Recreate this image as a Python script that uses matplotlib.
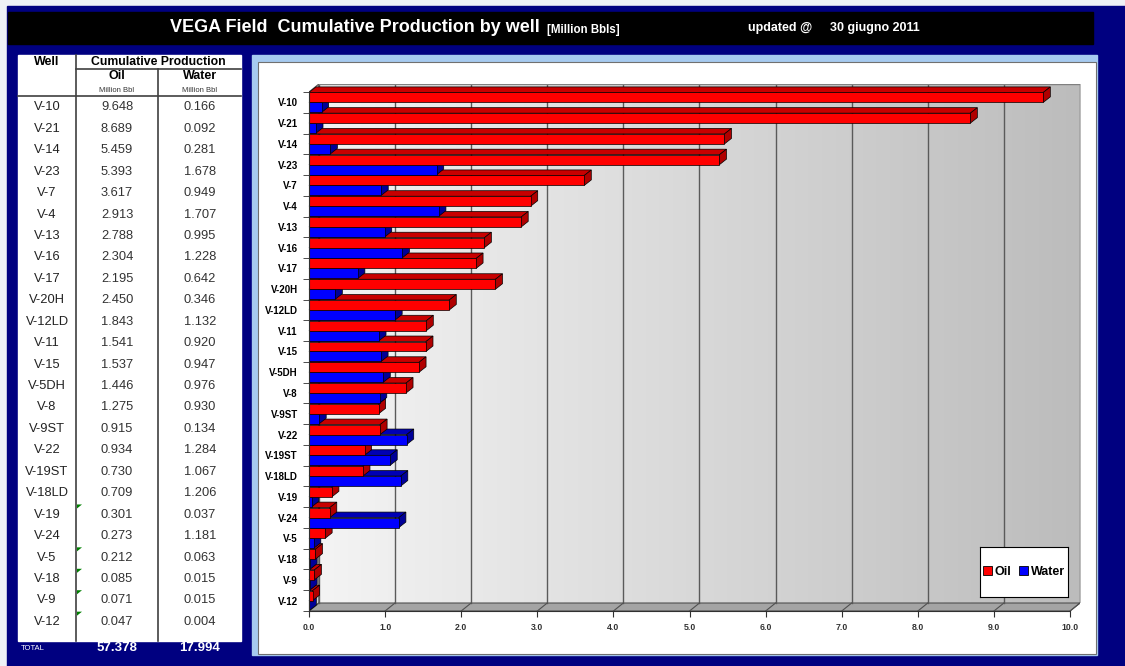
import numpy as np
import matplotlib.pyplot as plt
from matplotlib.patches import Rectangle, Polygon, Patch
from matplotlib.colors import LinearSegmentedColormap

plt.rcParams['font.family'] = ['Liberation Sans', 'DejaVu Sans']

# well data, Million Bbl
wells = ['V-10', 'V-21', 'V-14', 'V-23', 'V-7', 'V-4', 'V-13', 'V-16', 'V-17',
         'V-20H', 'V-12LD', 'V-11', 'V-15', 'V-5DH', 'V-8', 'V-9ST', 'V-22',
         'V-19ST', 'V-18LD', 'V-19', 'V-24', 'V-5', 'V-18', 'V-9', 'V-12']
oil = [9.648, 8.689, 5.459, 5.393, 3.617, 2.913, 2.788, 2.304, 2.195,
       2.450, 1.843, 1.541, 1.537, 1.446, 1.275, 0.915, 0.934,
       0.730, 0.709, 0.301, 0.273, 0.212, 0.085, 0.071, 0.047]
water = [0.166, 0.092, 0.281, 1.678, 0.949, 1.707, 0.995, 1.228, 0.642,
         0.346, 1.132, 0.920, 0.947, 0.976, 0.930, 0.134, 1.284,
         1.067, 1.206, 0.037, 1.181, 0.063, 0.015, 0.015, 0.004]
total_oil = 57.378
total_water = 17.994
commented = ['V-19', 'V-5', 'V-18', 'V-9', 'V-12']
x_ticks = np.arange(0, 11)

title = 'VEGA Field  Cumulative Production by well'
units = '[Million Bbls]'
updated = '30 giugno 2011'

W, H = 1125, 666
navy = '#000080'
fig = plt.figure(figsize=(W / 100, H / 100), dpi=100)

# background layer in pixel coordinates
bg = fig.add_axes([0, 0, 1, 1])
bg.set_xlim(0, W)
bg.set_ylim(H, 0)
bg.axis('off')
bg.add_patch(Rectangle((0, 0), W, H, color='#eef1f6'))
bg.add_patch(Rectangle((7, 6), W - 7, H - 6, color=navy))

# title bar
bg.add_patch(Rectangle((8, 12), 1085, 32, color='black'))
bg.text(170, 28, title, color='white', fontsize=13, fontweight='bold', va='center')
bg.text(547, 29.5, units, color='white', fontsize=8.3, fontweight='bold', va='center')
bg.text(748, 28.5, 'updated @', color='white', fontsize=9, fontweight='bold', va='center')
bg.text(830, 28.5, updated, color='white', fontsize=9, fontweight='bold', va='center')

# table
tl, tr, tt, tb = 18, 241, 55, 641
c1, c2 = 76, 158
bg.add_patch(Rectangle((tl, tt), tr - tl, tb - tt, color='white'))
lc = '#404040'
bg.plot([c1, c1], [tt, tb], color=lc, lw=1.2)
bg.plot([c2, c2], [69, tb], color=lc, lw=1.2)
bg.plot([c1, tr], [69, 69], color=lc, lw=1.2)
bg.plot([tl, tr], [96, 96], color=lc, lw=1.2)

bg.text(47, 62, 'Well', fontsize=9, fontweight='bold', ha='center', va='center')
bg.text(158, 62, 'Cumulative Production', fontsize=8.8, fontweight='bold', ha='center', va='center')
bg.text(117, 76, 'Oil', fontsize=9, fontweight='bold', ha='center', va='center')
bg.text(200, 76, 'Water', fontsize=9, fontweight='bold', ha='center', va='center')
bg.text(117, 90, 'Million Bbl', fontsize=5.5, color='#333333', ha='center', va='center')
bg.text(200, 90, 'Million Bbl', fontsize=5.5, color='#333333', ha='center', va='center')

row0, row_dy = 107.3, 21.44
for i, (w, o, wa) in enumerate(zip(wells, oil, water)):
    y = row0 + i * row_dy
    bg.text(47, y, w, fontsize=9.3, color='#222222', ha='center', va='center')
    bg.text(117, y, f'{o:.3f}', fontsize=9.3, color='#333333', ha='center', va='center')
    bg.text(200, y, f'{wa:.3f}', fontsize=9.3, color='#333333', ha='center', va='center')
    if w in commented:
        top = y - 10.2
        bg.add_patch(Polygon([(c1 + 1, top), (c1 + 6, top), (c1 + 1, top + 4)],
                             color='#008000', lw=0))

bg.text(21, 648.5, 'TOTAL', fontsize=5.5, color='white', va='center')
bg.text(117, 648, f'{total_oil:.3f}', fontsize=9.5, fontweight='bold', color='white',
        ha='center', va='center')
bg.text(200, 648, f'{total_water:.3f}', fontsize=9.5, fontweight='bold', color='white',
        ha='center', va='center')

# chart frame
bg.add_patch(Rectangle((252, 55), 845, 600, color='#a6caf0'))
bg.add_patch(Rectangle((258, 62), 838, 592, facecolor='white', edgecolor='#707070', lw=0.8))

# 3-D looking bar chart
wdx, wdy = 0.13, 0.385   # wall depth
bdx, bdy = 0.092, 0.265  # bar depth
bh = 0.48
n = len(wells)
yb = n - 0.5
yt = -0.5

ax = fig.add_axes([309 / W, 1 - 611 / H, 771 / W, 527 / H])
ax.set_facecolor('none')
for s in ['top', 'right']:
    ax.spines[s].set_visible(False)

wall_cmap = LinearSegmentedColormap.from_list('wall', ['#f4f4f4', '#bcbcbc'])
ax.imshow(np.linspace(0, 1, 256).reshape(1, -1), cmap=wall_cmap, aspect='auto',
          extent=[wdx, 10 + wdx, yb - wdy, yt - wdy], zorder=0)
ax.add_patch(Polygon([(0, yt), (wdx, yt - wdy), (wdx, yb - wdy), (0, yb)],
                     facecolor='#d4d4d4', edgecolor='#505050', lw=0.8, zorder=0.5))
ax.add_patch(Polygon([(0, yb), (10, yb), (10 + wdx, yb - wdy), (wdx, yb - wdy)],
                     facecolor='#a4a4a4', edgecolor='#505050', lw=0.8, zorder=0.5))
for k in x_ticks:
    ax.plot([k + wdx, k + wdx], [yb - wdy, yt - wdy], color='#5a5a5a', lw=1, zorder=1)
    ax.plot([k, k + wdx], [yb, yb - wdy], color='#505050', lw=0.8, zorder=1)
ax.plot([wdx, 10 + wdx], [yt - wdy, yt - wdy], color='#808080', lw=1, zorder=1)


def bar3d(yc, v, front, dark, side, z):
    top = yc - bh / 2
    ax.add_patch(Polygon([(0, top), (v, top), (v + bdx, top - bdy), (bdx, top - bdy)],
                         facecolor=dark, edgecolor='black', lw=0.5, zorder=z, clip_on=False))
    ax.add_patch(Polygon([(v, top), (v + bdx, top - bdy), (v + bdx, top + bh - bdy), (v, top + bh)],
                         facecolor=side, edgecolor='black', lw=0.5, zorder=z, clip_on=False))
    ax.barh(yc, v, height=bh, color=front, edgecolor='black', lw=0.5, zorder=z + 0.1)


z = 2
for i in range(n - 1, -1, -1):
    bar3d(i + bh / 2, water[i], '#0000ff', '#0000b4', '#000098', z)
    bar3d(i - bh / 2, oil[i], '#ff0000', '#c80000', '#b00000', z + 0.5)
    z += 1

ax.set_xlim(0, 10 + wdx)
ax.set_ylim(yb, yt - wdy)
ax.spines['bottom'].set_bounds(0, 10)
ax.spines['left'].set_bounds(yb, yt)
for s in ['bottom', 'left']:
    ax.spines[s].set_color('#303030')
    ax.spines[s].set_zorder(100)

ax.set_xticks(x_ticks)
ax.set_xticklabels([f'{k:.1f}' for k in x_ticks], fontsize=6.3, fontweight='bold', color='#333333')
ax.tick_params(axis='x', length=4, color='#303030', pad=5)
ax.set_yticks(np.arange(n))
ax.set_yticklabels(wells, fontsize=7, fontweight='bold')
ax.set_yticks(np.arange(n + 1) - 0.5, minor=True)
ax.tick_params(axis='y', which='major', length=0, pad=8)
ax.tick_params(axis='y', which='minor', length=4, color='#303030')

# legend box
lax = fig.add_axes([980 / W, 1 - 597 / H, 88 / W, 50 / H])
lax.set_xticks([])
lax.set_yticks([])
for s in lax.spines.values():
    s.set_linewidth(0.8)
handles = [Patch(facecolor='#ff0000', edgecolor='black', lw=0.6, label='Oil'),
           Patch(facecolor='#0000ff', edgecolor='black', lw=0.6, label='Water')]
lax.legend(handles=handles, loc='center', ncol=2, frameon=False, handlelength=0.7,
           handleheight=0.7, handletextpad=0.25, columnspacing=0.6,
           prop={'size': 9, 'weight': 'bold'})

fig.savefig('out.png', dpi=100)
